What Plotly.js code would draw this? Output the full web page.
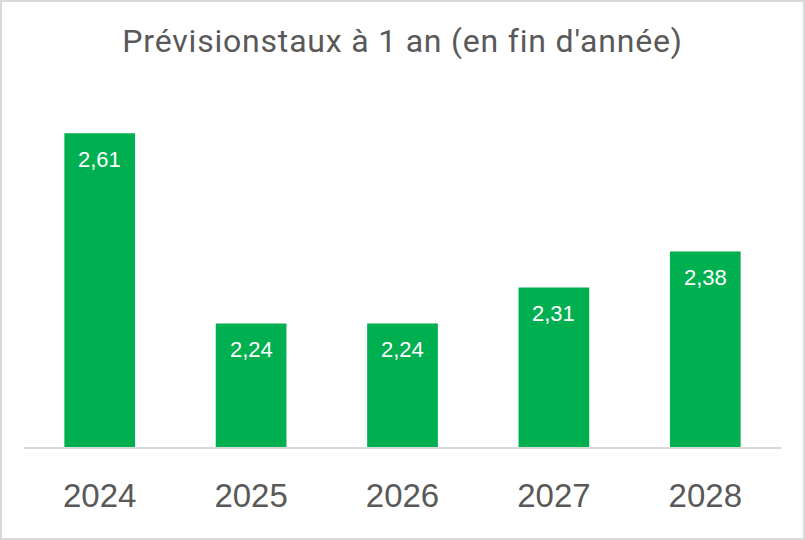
<!DOCTYPE html>
<html>
<head>
<meta charset="utf-8">
<script src="https://cdn.plot.ly/plotly-3.0.1.min.js"></script>
<style>
html,body{margin:0;padding:0;background:#fff;}
#wrap{position:relative;width:805px;height:540px;}
#chart{width:805px;height:540px;}
#frame{position:absolute;left:0;top:0;right:0;bottom:0;border:2px solid #d9d9d9;pointer-events:none;box-sizing:border-box;}
.gtitle{letter-spacing:0.8px;}
</style>
</head>
<body>
<div id="wrap"><div id="chart"></div><div id="frame"></div></div>
<script>
const categories = ['2024', '2025', '2026', '2027', '2028'];
const values = [2.61, 2.24, 2.24, 2.31, 2.38];
const valueLabels = ['2,61', '2,24', '2,24', '2,31', '2,38'];
const chartTitle = "Prévisionstaux à 1 an (en fin d'année)";

const trace = {
  type: 'bar',
  x: categories,
  y: values,
  marker: {color: '#00B050'},
  width: 0.467,
  hoverinfo: 'skip'
};

const annotations = categories.map((c, i) => ({
  x: i, y: values[i], xref: 'x', yref: 'y',
  text: valueLabels[i], showarrow: false,
  yanchor: 'middle', yshift: -26,
  font: {family: 'Liberation Sans, Arial, sans-serif', size: 22, color: '#ffffff'}
}));

const layout = {
  width: 805, height: 540,
  margin: {l: 24, r: 24, t: 87, b: 93},
  paper_bgcolor: '#ffffff', plot_bgcolor: '#ffffff',
  showlegend: false,
  title: {
    text: chartTitle,
    x: 0.5, xref: 'paper', xanchor: 'center',
    y: 1 - 41/540, yref: 'container', yanchor: 'middle',
    font: {family: 'Roboto, sans-serif', size: 32, color: '#595959'}
  },
  xaxis: {
    type: 'category',
    range: [-0.5, 4.5],
    showline: true, linecolor: '#d9d9d9', linewidth: 1.5,
    showgrid: false, zeroline: false,
    ticks: 'outside', ticklen: 19, tickcolor: 'rgba(0,0,0,0)',
    tickfont: {family: 'Liberation Sans, Arial, sans-serif', size: 33, color: '#595959'}
  },
  yaxis: {
    range: [2.0, 2.7],
    visible: false, showgrid: false, zeroline: false
  },
  annotations: annotations
};

Plotly.newPlot('chart', [trace], layout, {displayModeBar: false, staticPlot: true});
</script>
</body>
</html>
